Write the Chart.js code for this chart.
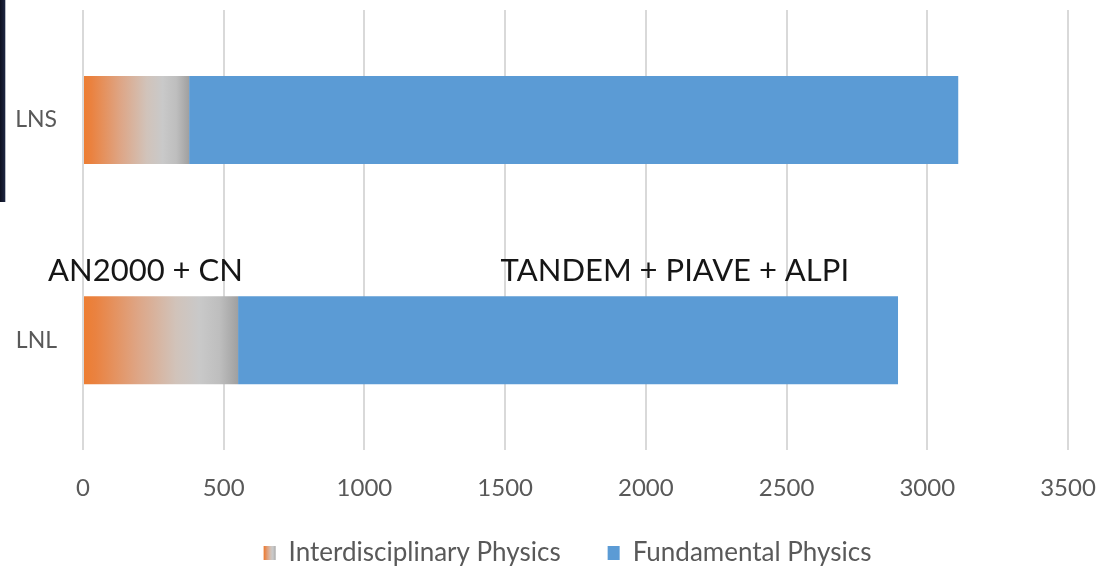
<!DOCTYPE html>
<html>
<head>
<meta charset="utf-8">
<title>LNS / LNL beam time</title>
<script src="https://cdn.jsdelivr.net/npm/chart.js@4.4.1/dist/chart.umd.min.js"></script>
<style>
  html, body { margin: 0; padding: 0; background: #fff; }
  #wrap { position: relative; width: 1111px; height: 571px; overflow: hidden; }
  /* borde oscuro del marco de la foto, arriba a la izquierda */
  #edge { position: absolute; left: 0; top: 0; width: 5px; height: 202px;
          background: linear-gradient(90deg, #0d1020, #1d2540); border-right: 1px solid #b8bcc4; }
</style>
</head>
<body>
<div id="wrap">
  <canvas id="chart" width="1111" height="571"></canvas>
  <div id="edge"></div>
</div>
<script>
// ============================================
// Datos
// ============================================
const categories = ['LNS', 'LNL'];
const seriesNames = ['Interdisciplinary Physics', 'Fundamental Physics'];
const interdisciplinary = [377, 551];
const fundamental = [2733, 2345];
const xMin = 0;
const xMax = 3500;
const xStep = 500;

// Etiquetas sobre las barras (posición en unidades de datos)
const noteTexts = ['AN2000 + CN', 'TANDEM + PIAVE + ALPI'];
const noteX = [222, 2103];
const noteY = [0.73, 0.73];

// ============================================
// Estilo
// ============================================
const FONT = "Lato, 'Open Sans', sans-serif";
const TEXT_GRAY = '#595959';
const ORANGE = '#ED7D31';
const BLUE = '#5B9BD5';

Chart.defaults.font.family = FONT;

// Degradado naranja -> gris como en la diapositiva
function addInterStops(g) {
    g.addColorStop(0, ORANGE);
    g.addColorStop(0.08, '#EA8240');
    g.addColorStop(0.35, '#DEA585');
    g.addColorStop(0.6, '#D1C3BA');
    g.addColorStop(0.75, '#C9C9C9');
    g.addColorStop(0.88, '#BEBEBE');
    g.addColorStop(1, '#A0A0A0');
    return g;
}

function interFill(c) {
    const chart = c.chart;
    if (!chart.chartArea || c.raw == null) return ORANGE;
    const xs = chart.scales.x;
    const x0 = xs.getPixelForValue(0);
    const x1 = xs.getPixelForValue(c.raw);
    return addInterStops(chart.ctx.createLinearGradient(x0, 0, x1, 0));
}

// Sin relleno extra alrededor del área del gráfico
const noScalePadding = (s) => {
    s.paddingTop = 0;
    s.paddingBottom = 0;
    s.paddingLeft = 0;
    s.paddingRight = 0;
};

// Textos AN2000 / TANDEM
const notesPlugin = {
    id: 'notes',
    afterDatasetsDraw(chart) {
        const { ctx, scales } = chart;
        ctx.save();
        ctx.font = '31px ' + FONT;
        ctx.fillStyle = '#161616';
        ctx.textAlign = 'center';
        ctx.textBaseline = 'alphabetic';
        noteTexts.forEach((t, i) => {
            ctx.fillText(t, scales.x.getPixelForValue(noteX[i]), scales.y.getPixelForValue(noteY[i]));
        });
        ctx.restore();
    }
};

// Leyenda propia (la separación entre elementos es mayor que la que permite la nativa)
const legendPlugin = {
    id: 'bottomLegend',
    afterDraw(chart) {
        const { ctx } = chart;
        const box = 12, boxH = 14, gap = 13, spacing = 47;
        const y = 553;
        ctx.save();
        ctx.font = '26px ' + FONT;
        const items = chart.data.datasets.map((ds, i) => ({
            label: ds.label,
            w: box + gap + ctx.measureText(ds.label).width,
            i
        }));
        const total = items.reduce((a, it) => a + it.w, 0) + spacing * (items.length - 1);
        let x = chart.width / 2 + 12 - total / 2;
        items.forEach(it => {
            if (it.i === 0) {
                ctx.fillStyle = addInterStops(ctx.createLinearGradient(x, 0, x + box, 0));
            } else {
                ctx.fillStyle = BLUE;
            }
            ctx.fillRect(x, y - boxH / 2, box, boxH);
            ctx.fillStyle = TEXT_GRAY;
            ctx.textAlign = 'left';
            ctx.textBaseline = 'middle';
            ctx.fillText(it.label, x + box + gap, y);
            x += it.w + spacing;
        });
        ctx.restore();
    }
};

new Chart(document.getElementById('chart'), {
    type: 'bar',
    data: {
        labels: categories,
        datasets: [
            {
                label: seriesNames[0],
                data: interdisciplinary,
                backgroundColor: interFill,
                borderWidth: 0,
                barPercentage: 0.4,
                categoryPercentage: 1
            },
            {
                label: seriesNames[1],
                data: fundamental,
                backgroundColor: BLUE,
                borderWidth: 0,
                barPercentage: 0.4,
                categoryPercentage: 1
            }
        ]
    },
    options: {
        indexAxis: 'y',
        responsive: false,
        animation: false,
        layout: { padding: { top: 10, right: 43, bottom: 44, left: 0 } },
        plugins: {
            legend: { display: false },
            tooltip: { enabled: false }
        },
        scales: {
            x: {
                stacked: true,
                min: xMin,
                max: xMax,
                ticks: {
                    stepSize: xStep,
                    color: TEXT_GRAY,
                    font: { size: 24 },
                    padding: 24,
                    callback: (v) => String(v)
                },
                grid: { color: '#D9D9D9', lineWidth: 2, drawTicks: false },
                border: { display: false },
                afterFit: noScalePadding
            },
            y: {
                stacked: true,
                ticks: {
                    color: TEXT_GRAY,
                    font: { size: 23 },
                    padding: 26
                },
                grid: { display: false, drawTicks: false },
                border: { display: false },
                afterFit: (s) => { noScalePadding(s); s.width = 83; }
            }
        }
    },
    plugins: [notesPlugin, legendPlugin]
});
</script>
</body>
</html>
